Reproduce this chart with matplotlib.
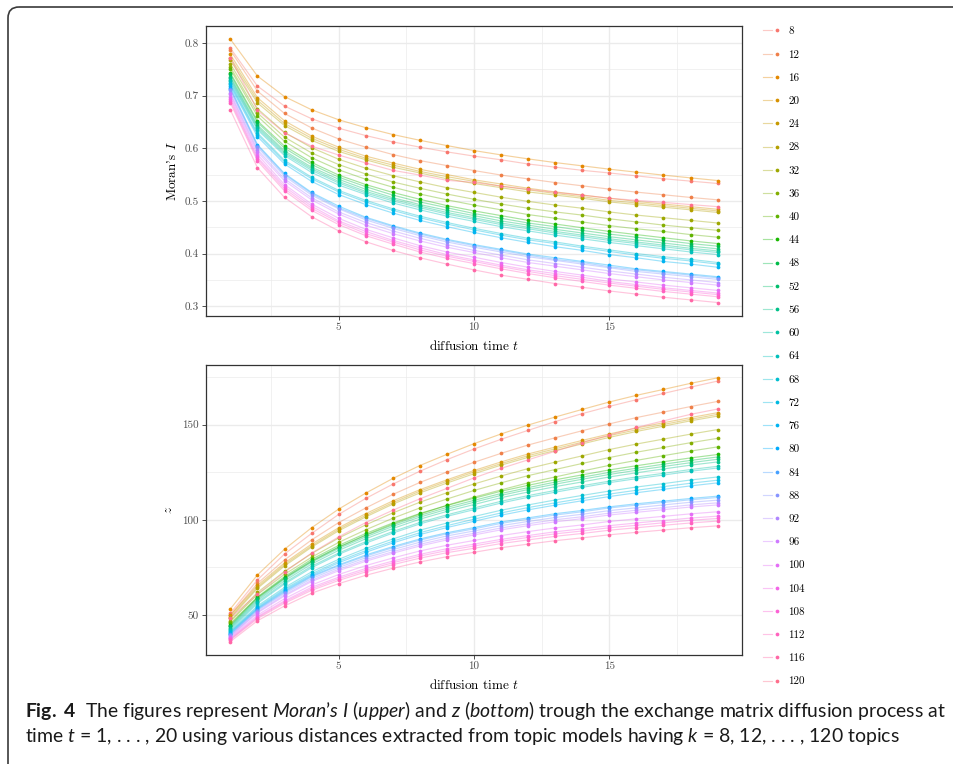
import numpy as np
import matplotlib
matplotlib.use("Agg")
import matplotlib.pyplot as plt
from matplotlib.lines import Line2D
from matplotlib.patches import FancyBboxPatch
from matplotlib.legend_handler import HandlerTuple
from matplotlib.ticker import FixedLocator

# ---------------- data ----------------
t = list(range(1, 20))
topics = [8, 12, 16, 20, 24, 28, 32, 36, 40, 44, 48, 52, 56, 60, 64,
          68, 72, 76, 80, 84, 88, 92, 96, 100, 104, 108, 112, 116, 120]

# Moran's I per topic count
m8 = [.790, .718, .680, .656, .638, .624, .612, .602, .593, .585, .578, .570, .564, .558, .553, .5475, .542, .5375, .533]
m12 = [.786, .7085, .666, .6385, .6176, .602, .588, .5765, .567, .5576, .549, .5417, .5348, .5286, .5223, .5166, .5116, .5065, .502]
m16 = [.807, .737, .698, .673, .654, .639, .626, .615, .605, .5955, .5873, .5797, .5727, .5665, .5602, .5545, .5488, .5437, .5386]
m20 = [.778, .696, .652, .623, .602, .585, .572, .560, .550, .540, .532, .524, .517, .511, .505, .499, .494, .489, .484]
m24 = [.772, .691, .647, .619, .598, .581, .568, .556, .546, .537, .528, .521, .514, .508, .501, .496, .491, .486, .481]
m28 = [.767, .686, .643, .615, .594, .578, .564, .553, .542, .533, .525, .517, .511, .505, .498, .493, .488, .483, .478]
m32 = [.760, .675, .630, .601, .579, .562, .548, .536, .525, .516, .507, .499, .492, .486, .479, .473, .468, .463, .458]
m36 = [.754, .667, .621, .591, .569, .551, .536, .524, .513, .503, .494, .486, .479, .473, .466, .460, .454, .449, .444]
m40 = [.750, .661, .613, .582, .559, .541, .526, .513, .502, .492, .483, .474, .467, .460, .453, .447, .442, .436, .431]
m44 = [.743, .652, .604, .573, .549, .531, .516, .503, .491, .481, .472, .463, .456, .449, .442, .436, .430, .424, .419]
m48 = [.740, .649, .600, .569, .545, .527, .511, .498, .487, .476, .467, .458, .451, .444, .437, .431, .425, .419, .414]
m52 = [.736, .644, .595, .564, .541, .522, .506, .493, .482, .472, .462, .454, .446, .439, .432, .426, .420, .414, .409]
m56 = [.733, .641, .592, .561, .537, .518, .503, .490, .478, .468, .458, .450, .442, .435, .428, .422, .416, .410, .405]
m60 = [.730, .638, .589, .558, .534, .515, .500, .487, .475, .465, .455, .447, .439, .432, .425, .419, .413, .407, .402]
m64 = [.727, .635, .586, .554, .530, .512, .496, .483, .471, .461, .451, .443, .435, .428, .421, .415, .409, .403, .398]
m68 = [.724, .629, .577, .545, .520, .501, .485, .471, .459, .448, .438, .429, .422, .414, .407, .400, .394, .389, .383]
m72 = [.721, .626, .574, .542, .517, .498, .482, .468, .456, .445, .435, .426, .419, .411, .404, .397, .391, .386, .380]
m76 = [.718, .622, .570, .537, .512, .493, .477, .463, .451, .440, .430, .421, .413, .406, .398, .392, .385, .380, .374]
m80 = [.715, .607, .552, .516, .490, .469, .453, .439, .427, .417, .408, .399, .392, .385, .378, .371, .366, .361, .356]
m84 = [.712, .605, .550, .514, .487, .467, .451, .437, .425, .415, .406, .397, .389, .383, .375, .369, .364, .359, .354]
m88 = [.710, .602, .547, .511, .485, .464, .448, .434, .422, .412, .403, .394, .387, .380, .373, .366, .361, .356, .351]
m92 = [.705, .597, .542, .506, .479, .459, .443, .429, .417, .406, .397, .388, .381, .374, .367, .361, .355, .350, .345]
m96 = [.702, .593, .538, .502, .475, .454, .438, .424, .412, .402, .392, .383, .376, .369, .362, .356, .350, .345, .340]
m100 = [.698, .588, .531, .494, .467, .446, .430, .415, .403, .393, .383, .374, .366, .359, .352, .346, .340, .335, .330]
m104 = [.694, .583, .527, .490, .462, .442, .425, .411, .398, .388, .378, .369, .362, .355, .347, .341, .335, .330, .325]
m108 = [.690, .580, .523, .486, .459, .438, .422, .407, .395, .385, .375, .366, .358, .351, .344, .338, .332, .327, .322]
m112 = [.686, .576, .519, .482, .455, .434, .418, .403, .391, .381, .371, .362, .354, .347, .340, .334, .328, .323, .318]
m116 = [.6725, .563, .5065, .470, .443, .4225, .406, .392, .380, .369, .359, .351, .343, .336, .329, .323, .317, .312, .307]
m120 = [.772, .672, .629, .604, .587, .572, .558, .549, .539, .535, .528, .522, .516, .511, .505, .501, .497, .493, .489]

# z statistic per topic count
z8 = [50.9, 68.4, 82.0, 92.8, 102.8, 111.2, 118.7, 125.5, 131.6, 137.2, 142.3, 147.0, 151.6, 155.8, 159.6, 163.1, 166.4, 169.7, 172.9]
z12 = [50.0, 66.5, 78.9, 89.4, 98.5, 106.2, 113.3, 119.6, 125.1, 130.2, 134.9, 139.3, 143.1, 146.8, 150.4, 153.7, 156.6, 159.5, 162.2]
z16 = [53.15, 71.0, 84.5, 95.8, 105.6, 114.0, 121.7, 128.5, 134.4, 140.0, 145.1, 149.8, 154.0, 158.0, 161.9, 165.4, 168.5, 171.7, 174.6]
z20 = [49.8, 65.5, 77.3, 87.2, 95.8, 103.2, 109.9, 115.8, 121.0, 125.9, 130.4, 134.6, 138.2, 141.7, 145.1, 148.2, 151.0, 153.7, 156.3]
z24 = [49.0, 64.6, 76.5, 86.3, 95.0, 102.3, 109.0, 115.0, 120.2, 125.1, 129.5, 133.7, 137.3, 140.8, 144.2, 147.3, 150.1, 152.8, 155.4]
z28 = [48.3, 63.9, 75.7, 85.6, 94.2, 101.5, 108.2, 114.1, 119.3, 124.2, 128.7, 132.8, 136.4, 139.9, 143.3, 146.4, 149.2, 152.0, 154.5]
z32 = [47.0, 61.8, 72.9, 82.2, 90.4, 97.3, 103.6, 109.2, 114.2, 118.8, 123.0, 126.9, 130.3, 133.6, 136.9, 139.8, 142.4, 145.0, 147.4]
z36 = [46.5, 60.7, 71.3, 80.3, 88.1, 94.7, 100.8, 106.2, 110.9, 115.4, 119.4, 123.2, 126.4, 129.6, 132.7, 135.5, 138.0, 140.5, 142.8]
z40 = [45.5, 59.1, 69.4, 78.1, 85.6, 92.0, 97.8, 103.0, 107.6, 111.9, 115.7, 119.4, 122.5, 125.6, 128.6, 131.2, 133.7, 136.1, 138.3]
z44 = [44.8, 59.4, 70.1, 79.2, 86.5, 92.8, 98.3, 103.3, 107.5, 111.3, 115.0, 118.1, 121.0, 123.6, 126.2, 128.4, 130.5, 132.5, 134.3]
z48 = [44.3, 58.8, 69.4, 78.4, 85.6, 91.8, 97.3, 102.3, 106.5, 110.2, 113.8, 116.9, 119.8, 122.4, 124.9, 127.1, 129.2, 131.2, 133.0]
z52 = [43.9, 58.2, 68.8, 77.7, 84.9, 91.0, 96.5, 101.4, 105.5, 109.2, 112.8, 115.9, 118.7, 121.3, 123.8, 126.0, 128.0, 130.0, 131.8]
z56 = [43.3, 57.5, 67.9, 76.7, 83.9, 90.0, 95.4, 100.3, 104.4, 108.0, 111.6, 114.6, 117.4, 119.9, 122.5, 124.7, 126.7, 128.7, 130.4]
z60 = [42.8, 56.7, 66.9, 75.6, 82.5, 88.5, 93.8, 98.6, 102.6, 106.2, 109.7, 112.7, 115.4, 117.9, 120.3, 122.5, 124.4, 126.4, 128.1]
z64 = [42.1, 56.0, 66.2, 74.8, 81.8, 87.7, 93.0, 97.8, 101.8, 105.3, 108.8, 111.8, 114.5, 117.0, 119.5, 121.6, 123.5, 125.5, 127.2]
z68 = [41.5, 54.7, 64.4, 72.6, 79.2, 84.9, 89.9, 94.5, 98.3, 101.7, 105.0, 107.8, 110.4, 112.8, 115.1, 117.2, 119.0, 120.9, 122.5]
z72 = [41.0, 54.0, 63.6, 71.6, 78.2, 83.8, 88.7, 93.2, 96.9, 100.3, 103.6, 106.4, 108.9, 111.2, 113.5, 115.5, 117.4, 119.2, 120.8]
z76 = [40.7, 53.5, 63.0, 70.9, 77.4, 82.9, 87.8, 92.2, 95.9, 99.2, 102.4, 105.2, 107.7, 110.0, 112.2, 114.2, 116.0, 117.8, 119.4]
z80 = [40.2, 53.1, 62.4, 70.4, 76.3, 81.5, 85.9, 89.9, 93.2, 95.9, 98.8, 101.0, 103.2, 104.9, 106.8, 108.4, 109.8, 111.2, 112.4]
z84 = [39.8, 52.7, 61.9, 69.9, 75.8, 80.9, 85.3, 89.3, 92.6, 95.2, 98.1, 100.3, 102.5, 104.2, 106.2, 107.7, 109.1, 110.5, 111.7]
z88 = [39.5, 52.2, 61.3, 69.1, 74.9, 80.0, 84.3, 88.2, 91.5, 94.1, 96.9, 99.1, 101.2, 102.9, 104.8, 106.3, 107.8, 109.2, 110.3]
z92 = [39.0, 51.5, 60.5, 68.2, 74.0, 79.0, 83.2, 87.1, 90.3, 92.9, 95.7, 97.9, 100.0, 101.6, 103.5, 105.0, 106.4, 107.8, 108.9]
z96 = [38.6, 51.0, 59.9, 67.5, 73.2, 78.2, 82.4, 86.2, 89.4, 92.0, 94.7, 96.9, 98.9, 100.6, 102.5, 103.9, 105.3, 106.7, 107.8]
z100 = [38.1, 49.9, 58.5, 65.7, 71.2, 75.9, 79.9, 83.6, 86.6, 89.1, 91.7, 93.8, 95.7, 97.3, 99.1, 100.5, 101.8, 103.1, 104.2]
z104 = [37.6, 49.1, 57.4, 64.5, 69.8, 74.4, 78.3, 81.8, 84.8, 87.2, 89.7, 91.7, 93.7, 95.2, 96.9, 98.3, 99.6, 100.9, 101.9]
z108 = [37.2, 48.6, 56.8, 63.7, 69.0, 73.5, 77.4, 80.9, 83.8, 86.2, 88.7, 90.7, 92.6, 94.1, 95.8, 97.1, 98.4, 99.7, 100.7]
z112 = [36.8, 48.0, 56.1, 62.9, 68.1, 72.6, 76.4, 79.8, 82.7, 85.0, 87.5, 89.4, 91.3, 92.8, 94.5, 95.8, 97.1, 98.3, 99.3]
z116 = [36.0, 46.9, 54.7, 61.4, 66.4, 70.8, 74.5, 77.8, 80.6, 82.9, 85.3, 87.2, 89.0, 90.5, 92.1, 93.4, 94.6, 95.8, 96.8]
z120 = [48.5, 61.0, 72.5, 82.5, 91.0, 98.5, 105.0, 111.0, 116.5, 122.0, 127.0, 131.5, 136.0, 140.5, 144.5, 148.5, 152.0, 155.4, 158.2]

moran_series = [m8, m12, m16, m20, m24, m28, m32, m36, m40, m44, m48, m52, m56, m60, m64,
                m68, m72, m76, m80, m84, m88, m92, m96, m100, m104, m108, m112, m116, m120]
z_series = [z8, z12, z16, z20, z24, z28, z32, z36, z40, z44, z48, z52, z56, z60, z64,
            z68, z72, z76, z80, z84, z88, z92, z96, z100, z104, z108, z112, z116, z120]

x_ticks = [5, 10, 15]
x_ticklabels = ["5", "10", "15"]
moran_ticks = [0.3, 0.4, 0.5, 0.6, 0.7, 0.8]
moran_ticklabels = ["0.3", "0.4", "0.5", "0.6", "0.7", "0.8"]
z_ticks = [50, 100, 150]
z_ticklabels = ["50", "100", "150"]


# ---------------- ggplot hue palette ----------------
def hue_palette(n, c=100.0, l=65.0):
    hs = np.linspace(15, 375, n + 1)[:-1]
    Xn, Yn, Zn = 0.95047, 1.0, 1.08883
    den = Xn + 15 * Yn + 3 * Zn
    un, vn = 4 * Xn / den, 9 * Yn / den
    Y = ((l + 16) / 116) ** 3
    cols = []
    for h in hs:
        hr = np.deg2rad(h)
        u, v = c * np.cos(hr), c * np.sin(hr)
        up = u / (13 * l) + un
        vp = v / (13 * l) + vn
        X = Y * 9 * up / (4 * vp)
        Z = Y * (12 - 3 * up - 20 * vp) / (4 * vp)
        r = 3.2404542 * X - 1.5371385 * Y - 0.4985314 * Z
        g = -0.9692660 * X + 1.8760108 * Y + 0.0415560 * Z
        b = 0.0556434 * X - 0.2040259 * Y + 1.0572252 * Z

        def gam(x):
            x = min(max(x, 0.0), 1.0)
            return 12.92 * x if x <= 0.0031308 else 1.055 * x ** (1 / 2.4) - 0.055
        cols.append((gam(r), gam(g), gam(b)))
    return cols


colors = hue_palette(len(topics))

plt.rcParams["font.family"] = ["cmr10", "DejaVu Serif"]
plt.rcParams["mathtext.fontset"] = "custom"
plt.rcParams["mathtext.rm"] = "Lato"
plt.rcParams["mathtext.it"] = "Lato:italic"
plt.rcParams["mathtext.bf"] = "Lato:bold"

W, H = 954, 764
fig = plt.figure(figsize=(W / 100, H / 100), dpi=100)
fig.patch.set_facecolor("white")

LW_LINE = 0.85
ALPHA_LINE = 0.38
MS = 2.7

ax_left, ax_w = 206 / W, 536 / W
ax1 = fig.add_axes([ax_left, 1 - 315.7 / H, ax_w, 289.7 / H])
ax2 = fig.add_axes([ax_left, 1 - 654.7 / H, ax_w, 290.0 / H])


def style_axes(ax, yticks, yticklabels, yminor):
    ax.set_xlim(0.1, 19.9)
    ax.xaxis.set_major_locator(FixedLocator(x_ticks))
    ax.set_xticklabels(x_ticklabels)
    ax.xaxis.set_minor_locator(FixedLocator([2.5, 7.5, 12.5, 17.5]))
    ax.yaxis.set_major_locator(FixedLocator(yticks))
    ax.set_yticklabels(yticklabels)
    ax.yaxis.set_minor_locator(FixedLocator(yminor))
    ax.grid(True, which="major", color="#EBEBEB", lw=1.0)
    ax.grid(True, which="minor", color="#EBEBEB", lw=0.5)
    ax.set_axisbelow(True)
    ax.tick_params(which="major", length=3, width=0.6, color="#333333",
                   labelsize=8, labelcolor="#4D4D4D", pad=2)
    ax.tick_params(which="minor", length=0)
    for s in ax.spines.values():
        s.set_color("#333333")
        s.set_linewidth(0.9)


handles = []
for ax, series in ((ax1, moran_series), (ax2, z_series)):
    for vals, col in zip(series, colors):
        ax.plot(t, vals, color=col, lw=LW_LINE, alpha=ALPHA_LINE, zorder=2)
    for vals, col in zip(series, colors):
        ax.plot(t, vals, ls="none", marker="o", ms=MS, mec="none", color=col, zorder=3)

for col in colors:
    ln = Line2D([], [], color=col, lw=LW_LINE, alpha=ALPHA_LINE)
    pt = Line2D([], [], color=col, ls="none", marker="o", ms=MS, mec="none")
    handles.append((ln, pt))

ax1.set_ylim(0.282, 0.832)
style_axes(ax1, moran_ticks, moran_ticklabels, [0.35, 0.45, 0.55, 0.65, 0.75])
ax2.set_ylim(29.07, 181.5)
style_axes(ax2, z_ticks, z_ticklabels, [75, 125, 175])

for ax in (ax1, ax2):
    ax.set_xlabel(r"diffusion time $t$", fontsize=9.5, labelpad=5,
                  fontfamily="cmr10", math_fontfamily="cm")
ax1.set_ylabel(r"Moran's $I$", fontsize=9.5, labelpad=4,
               fontfamily="cmr10", math_fontfamily="cm")
ax2.set_ylabel(r"$z$", fontsize=9.5, labelpad=5, math_fontfamily="cm")

fig.legend(handles, [str(k) for k in topics],
           handler_map={tuple: HandlerTuple(ndivide=None)},
           loc="upper left", bbox_to_anchor=(762.7 / W, 1 - 26.5 / H),
           frameon=False, borderpad=0, borderaxespad=0,
           handlelength=1.75, handletextpad=0.55, labelspacing=1.21,
           prop={"family": "cmr10", "size": 8})

# ---------------- frame and caption ----------------
bg = fig.add_axes([0, 0, 1, 1], zorder=-5)
bg.set_xlim(0, W)
bg.set_ylim(H, 0)
bg.axis("off")
bg.add_patch(FancyBboxPatch((8, 7), 1200, 1000,
                            boxstyle="round,pad=0,rounding_size=11",
                            fill=False, ec="#3a3a3a", lw=1.2))

line1 = (r"$\mathbf{Fig.\ 4}$  The figures represent $\mathit{Moran}$’$\mathit{s\ I}$ "
         r"($\mathit{upper}$) and $\mathit{z}$ ($\mathit{bottom}$) trough the exchange "
         r"matrix diffusion process at")
line2 = (r"time $\mathit{t}$ = 1, . . . , 20 using various distances extracted from "
         r"topic models having $\mathit{k}$ = 8, 12, . . . , 120 topics")

fs = 12.0
cap1 = bg.text(25, 717, line1, fontsize=fs, family="Lato", va="baseline", ha="left",
               color="#1a1a1a")
cap2 = bg.text(25, 742, line2, fontsize=fs, family="Lato", va="baseline", ha="left",
               color="#1a1a1a")
renderer = fig.canvas.get_renderer()
w1 = cap1.get_window_extent(renderer).width
fs_new = fs * 921.0 / w1
cap1.set_fontsize(fs_new)
cap2.set_fontsize(fs_new)

fig.savefig("out.png", dpi=100, facecolor="white")
